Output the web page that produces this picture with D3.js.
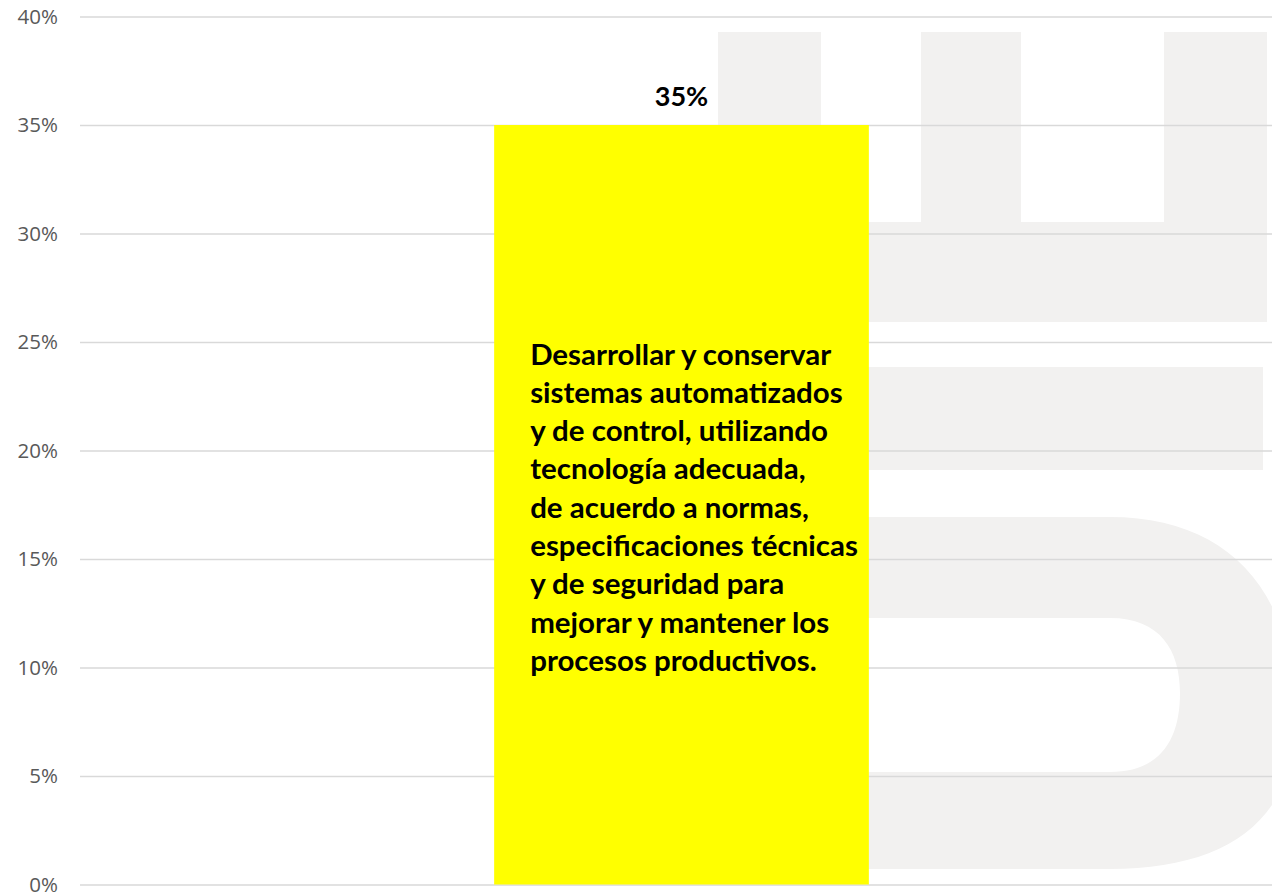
<!DOCTYPE html>
<html>
<head>
<meta charset="utf-8">
<script src="https://cdn.jsdelivr.net/npm/d3@7"></script>
<style>
    body { margin: 0; background: #fff; }
</style>
</head>
<body>
<script>
const categories = ['Desarrollar y conservar sistemas automatizados y de control, utilizando tecnología adecuada, de acuerdo a normas, especificaciones técnicas y de seguridad para mejorar y mantener los procesos productivos.'];
const values = [0.35];
const categoryLines = [
    'Desarrollar y conservar',
    'sistemas automatizados',
    'y de control, utilizando',
    'tecnología adecuada,',
    'de acuerdo a normas,',
    'especificaciones técnicas',
    'y de seguridad para',
    'mejorar y mantener los',
    'procesos productivos.'
];
const tickValues = [0, 0.05, 0.10, 0.15, 0.20, 0.25, 0.30, 0.35, 0.40];

const svgWidth = 1272;
const svgHeight = 892;
const margin = { top: 16.5, bottom: 7.5, left: 80, right: -11 };
const width = svgWidth - margin.left - margin.right;
const height = svgHeight - margin.top - margin.bottom;

const root = d3.select('body')
    .append('svg')
    .attr('width', svgWidth)
    .attr('height', svgHeight);

// faint logo watermark behind the chart
const wm = root.append('g').attr('fill', '#f2f1f0');
wm.append('path')
    .attr('d', 'M718,32 H821 V222 H921 V32 H1021 V222 H1164 V32 H1267 V322 H718 Z');
wm.append('rect').attr('x', 700).attr('y', 367).attr('width', 563).attr('height', 103);
wm.append('path')
    .attr('fill-rule', 'evenodd')
    .attr('d', 'M700,517 H1110 C1200,517 1262,560 1285,640 V780 C1262,840 1200,869 1110,869 H700 Z ' +
        'M700,618 H1110 C1160,618 1180,650 1180,693 C1180,740 1160,772 1110,772 H700 Z');

const svg = root.append('g')
    .attr('transform', `translate(${margin.left}, ${margin.top})`);

const x = d3.scaleBand()
    .domain(categories)
    .range([0, width])
    .padding(0.525);

const y = d3.scaleLinear()
    .domain([0, 0.4])
    .range([height, 0]);

const yAxis = svg.append('g')
    .call(d3.axisLeft(y)
        .tickValues(tickValues)
        .tickFormat(d3.format('.0%'))
        .tickSize(-width)
        .tickPadding(22));

yAxis.select('.domain').remove();
yAxis.selectAll('.tick line')
    .attr('stroke', '#d9d9d9')
    .attr('stroke-width', 1.5);
yAxis.selectAll('.tick text')
    .style('font-family', '"Open Sans", sans-serif')
    .style('font-size', '20.5px')
    .attr('fill', '#595959');

svg.selectAll('.bar')
    .data(values)
    .enter()
    .append('rect')
    .attr('class', 'bar')
    .attr('x', (d, i) => x(categories[i]))
    .attr('y', d => y(d))
    .attr('width', x.bandwidth())
    .attr('height', d => height - y(d))
    .attr('fill', '#ffff00');

svg.selectAll('.value-label')
    .data(values)
    .enter()
    .append('text')
    .attr('class', 'value-label')
    .attr('x', (d, i) => x(categories[i]) + x.bandwidth() / 2)
    .attr('y', d => y(d) - 19)
    .attr('text-anchor', 'middle')
    .style('font-family', 'Lato, sans-serif')
    .style('font-weight', 'bold')
    .style('font-size', '27px')
    .attr('fill', '#000')
    .text(d3.format('.0%'));

// category text written inside the bar
const lineHeight = 38.3;
const catText = svg.append('text')
    .attr('x', x(categories[0]) + 36)
    .attr('y', y(values[0] / 2) - (categoryLines.length - 1) / 2 * lineHeight + 13)
    .style('font-family', 'Lato, sans-serif')
    .style('font-weight', 'bold')
    .style('font-size', '25px')
    .attr('fill', '#000');

catText.selectAll('tspan')
    .data(categoryLines)
    .enter()
    .append('tspan')
    .attr('x', x(categories[0]) + 36)
    .attr('dy', (d, i) => i === 0 ? 0 : lineHeight)
    .text(d => d);

// fit the widest line to the width seen in the picture
let widest = 0;
catText.selectAll('tspan').each(function () {
    widest = Math.max(widest, this.getComputedTextLength());
});
catText.style('font-size', (25 * 328 / widest) + 'px');
</script>
</body>
</html>
